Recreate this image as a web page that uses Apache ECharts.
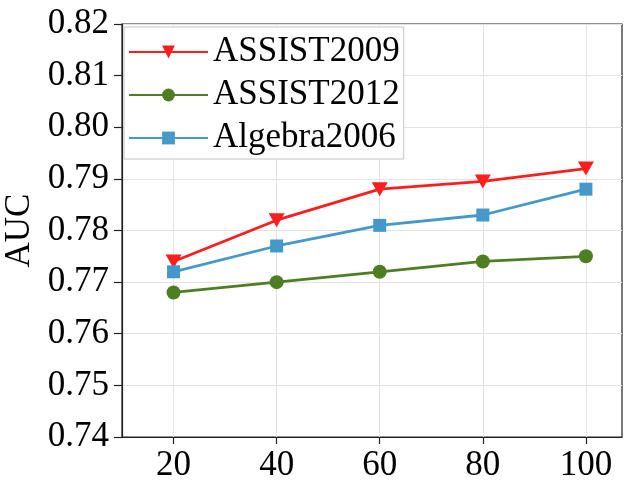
<!DOCTYPE html>
<html>
<head>
<meta charset="utf-8">
<script src="https://cdn.jsdelivr.net/npm/echarts@6/dist/echarts.min.js"></script>
<style>html,body{margin:0;padding:0;background:#fff;}#c{width:625px;height:481px;}</style>
</head>
<body>
<div id="c"></div>
<script>
const xValues = [20, 40, 60, 80, 100];
const yTicks = [0.74, 0.75, 0.76, 0.77, 0.78, 0.79, 0.80, 0.81, 0.82];
const assist2009 = [0.774, 0.782, 0.788, 0.7895, 0.792];
const assist2012 = [0.768, 0.770, 0.772, 0.774, 0.775];
const algebra2006 = [0.772, 0.777, 0.781, 0.783, 0.788];

const FONT = '"Liberation Serif", "Times New Roman", serif';
const chart = echarts.init(document.getElementById('c'), null, {renderer: 'canvas'});
const pair = arr => xValues.map((x, i) => [x, arr[i]]);
chart.setOption({
  animation: false,
  backgroundColor: '#fff',
  grid: {left: 122, right: 3, top: 24, bottom: 44, show: true, borderColor: '#222', borderWidth: 1.2,
         containLabel: false, outerBoundsMode: 'none'},
  xAxis: {
    type: 'value', min: 10, max: 107,
    axisLine: {show: true, lineStyle: {color: '#222', width: 1.2}},
    axisTick: {show: true, inside: false, length: 7, lineStyle: {color: '#222', width: 1.2}, customValues: xValues},
    axisLabel: {customValues: xValues, color: '#000', fontFamily: FONT, fontSize: 35, margin: 11},
    splitLine: {show: true, lineStyle: {color: '#e3e3e3', width: 1}}
  },
  yAxis: {
    type: 'value', min: yTicks[0], max: yTicks[yTicks.length - 1], interval: 0.01,
    name: 'AUC', nameLocation: 'middle', nameGap: 74,
    nameTextStyle: {color: '#000', fontFamily: FONT, fontSize: 35},
    axisLine: {show: true, lineStyle: {color: '#222', width: 1.2}},
    axisTick: {show: true, length: 8, lineStyle: {color: '#222', width: 1.2}},
    axisLabel: {color: '#000', fontFamily: FONT, fontSize: 35, margin: 13, formatter: v => v.toFixed(2)},
    splitLine: {show: true, lineStyle: {color: '#e3e3e3', width: 1}}
  },
  legend: {
    orient: 'vertical', left: 124, top: 27,
    backgroundColor: '#fff', borderColor: '#c4c4c4', borderWidth: 1, borderRadius: 0,
    padding: [7, 4, 3, 4], itemGap: 7, itemWidth: 79, itemHeight: 16, itemTextGap: 12,
    textStyle: {color: '#000', fontFamily: FONT, fontSize: 35, lineHeight: 36},
    data: ['ASSIST2009', 'ASSIST2012', 'Algebra2006']
  },
  series: [
    {name: 'ASSIST2009', type: 'line', data: pair(assist2009), color: '#fa1e1e',
     symbol: 'triangle', symbolRotate: 180, symbolSize: [16, 14], lineStyle: {width: 2.8}, itemStyle: {color: '#fa1e1e'}},
    {name: 'ASSIST2012', type: 'line', data: pair(assist2012), color: '#4e7d22',
     symbol: 'circle', symbolSize: 14, lineStyle: {width: 2.8}, itemStyle: {color: '#4e7d22'}},
    {name: 'Algebra2006', type: 'line', data: pair(algebra2006), color: '#4499c9',
     symbol: 'rect', symbolSize: 13, lineStyle: {width: 2.8}, itemStyle: {color: '#4499c9'}}
  ]
});
</script>
</body>
</html>
